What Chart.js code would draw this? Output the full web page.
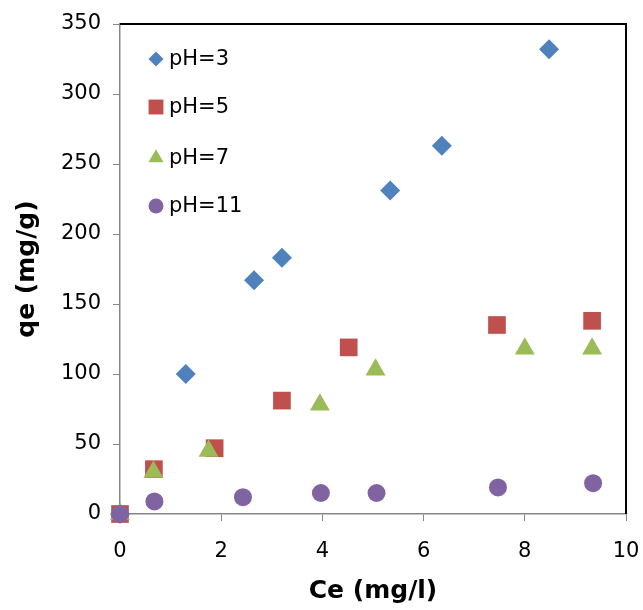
<!DOCTYPE html>
<html>
<head>
<meta charset="utf-8">
<script src="https://cdn.jsdelivr.net/npm/chart.js@4.4.1/dist/chart.umd.min.js"></script>
<style>
html,body{margin:0;padding:0;background:#fff;}
#wrap{width:643px;height:610px;position:relative;}
</style>
</head>
<body>
<div id="wrap"><canvas id="c"></canvas></div>
<script>
// Data
const seriesLabels = ["pH=3", "pH=5", "pH=7", "pH=11"];
const cePH3 = [0, 1.30, 2.65, 3.20, 5.34, 6.36, 8.48];
const qePH3 = [0, 100, 167, 183, 231, 263, 332];
const cePH5 = [0, 0.67, 1.87, 3.20, 4.52, 7.45, 9.33];
const qePH5 = [0, 32, 47, 81, 119, 135, 138];
const cePH7 = [0, 0.66, 1.75, 3.95, 5.05, 8.00, 9.33];
const qePH7 = [0, 30, 45, 78, 103, 118, 118];
const cePH11 = [0, 0.68, 2.43, 3.97, 5.07, 7.47, 9.35];
const qePH11 = [0, 9, 12, 15, 15, 19, 22];
const xTitle = "Ce (mg/l)";
const yTitle = "qe (mg/g)";

const toPts = (xs, ys) => xs.map((x, i) => ({x: x, y: ys[i]}));
const XS = [cePH3, cePH5, cePH7, cePH11];
const YS = [qePH3, qePH5, qePH7, qePH11];
const colors = ["#4F81BD", "#C0504D", "#9BBB59", "#8064A2"];
const styles = ["rectRot", "rect", "triangle", "circle"];
const radii = [10, 12.5, 11.5, 9];
const legendRadii = [7.5, 10.5, 8.7, 7.5];
const legendRows = [59, 107, 158, 206];

const datasets = seriesLabels.map((lab, i) => ({
  label: lab,
  data: toPts(XS[i], YS[i]),
  pointStyle: styles[i],
  pointRadius: radii[i],
  pointHoverRadius: radii[i],
  backgroundColor: colors[i],
  borderColor: colors[i],
  borderWidth: 0,
  showLine: false,
  clip: false,
  order: seriesLabels.length - i   // later series drawn on top, as in the reference
}));
const FONT = "'DejaVu Sans', Verdana, sans-serif";

const insideLegend = {
  id: 'insideLegend',
  afterDraw(chart) {
    const ctx = chart.ctx;
    ctx.save();
    chart.data.datasets.forEach((ds, i) => {
      ctx.fillStyle = ds.backgroundColor;
      ctx.strokeStyle = ds.backgroundColor;
      Chart.helpers.drawPoint(ctx, {pointStyle: ds.pointStyle, radius: legendRadii[i], rotation: 0, borderWidth: 0}, 156, legendRows[i]);
      ctx.fillStyle = "#000";
      ctx.font = "21px " + FONT;
      ctx.textBaseline = "middle";
      ctx.textAlign = "left";
      ctx.fillText(ds.label, 169, legendRows[i] + 1);
    });
    ctx.restore();
  }
};

const frame = {
  id: 'frame',
  beforeDatasetsDraw(chart) {
    const a = chart.chartArea, ctx = chart.ctx;
    ctx.save();
    ctx.strokeStyle = "#000";
    ctx.lineWidth = 2;
    ctx.beginPath();
    ctx.moveTo(a.left, a.top);
    ctx.lineTo(a.right, a.top);
    ctx.lineTo(a.right, a.bottom);
    ctx.stroke();
    ctx.restore();
  }
};

new Chart(document.getElementById('c'), {
  type: 'scatter',
  data: { datasets: datasets },
  options: {
    responsive: true,
    maintainAspectRatio: false,
    animation: false,
    layout: { padding: { top: 24, right: 17, left: 0, bottom: 0 } },
    plugins: { legend: { display: false }, tooltip: { enabled: false } },
    scales: {
      x: {
        type: 'linear', min: 0, max: 10,
        ticks: { stepSize: 2, color: "#000", font: { family: FONT, size: 21 }, padding: 18 },
        grid: { drawOnChartArea: false, tickLength: 7, color: "#868686" },
        border: { color: "#868686", width: 1.5 },
        title: { display: true, text: xTitle, color: "#000", font: { family: FONT, size: 25, weight: 'bold' }, padding: { top: 4 } },
        afterFit(s) { s.height = 96; s.paddingRight = 0; s.paddingLeft = 0; }
      },
      y: {
        type: 'linear', min: 0, max: 350,
        ticks: { stepSize: 50, color: "#000", font: { family: FONT, size: 21 }, padding: 12 },
        grid: { drawOnChartArea: false, tickLength: 7, color: "#868686" },
        border: { color: "#868686", width: 1.5 },
        title: { display: true, text: yTitle, color: "#000", font: { family: FONT, size: 25, weight: 'bold' }, padding: { top: 12, bottom: 2 } },
        afterFit(s) { s.width = 120; s.paddingTop = 0; s.paddingBottom = 0; }
      }
    }
  },
  plugins: [frame, insideLegend]
});
</script>
</body>
</html>
